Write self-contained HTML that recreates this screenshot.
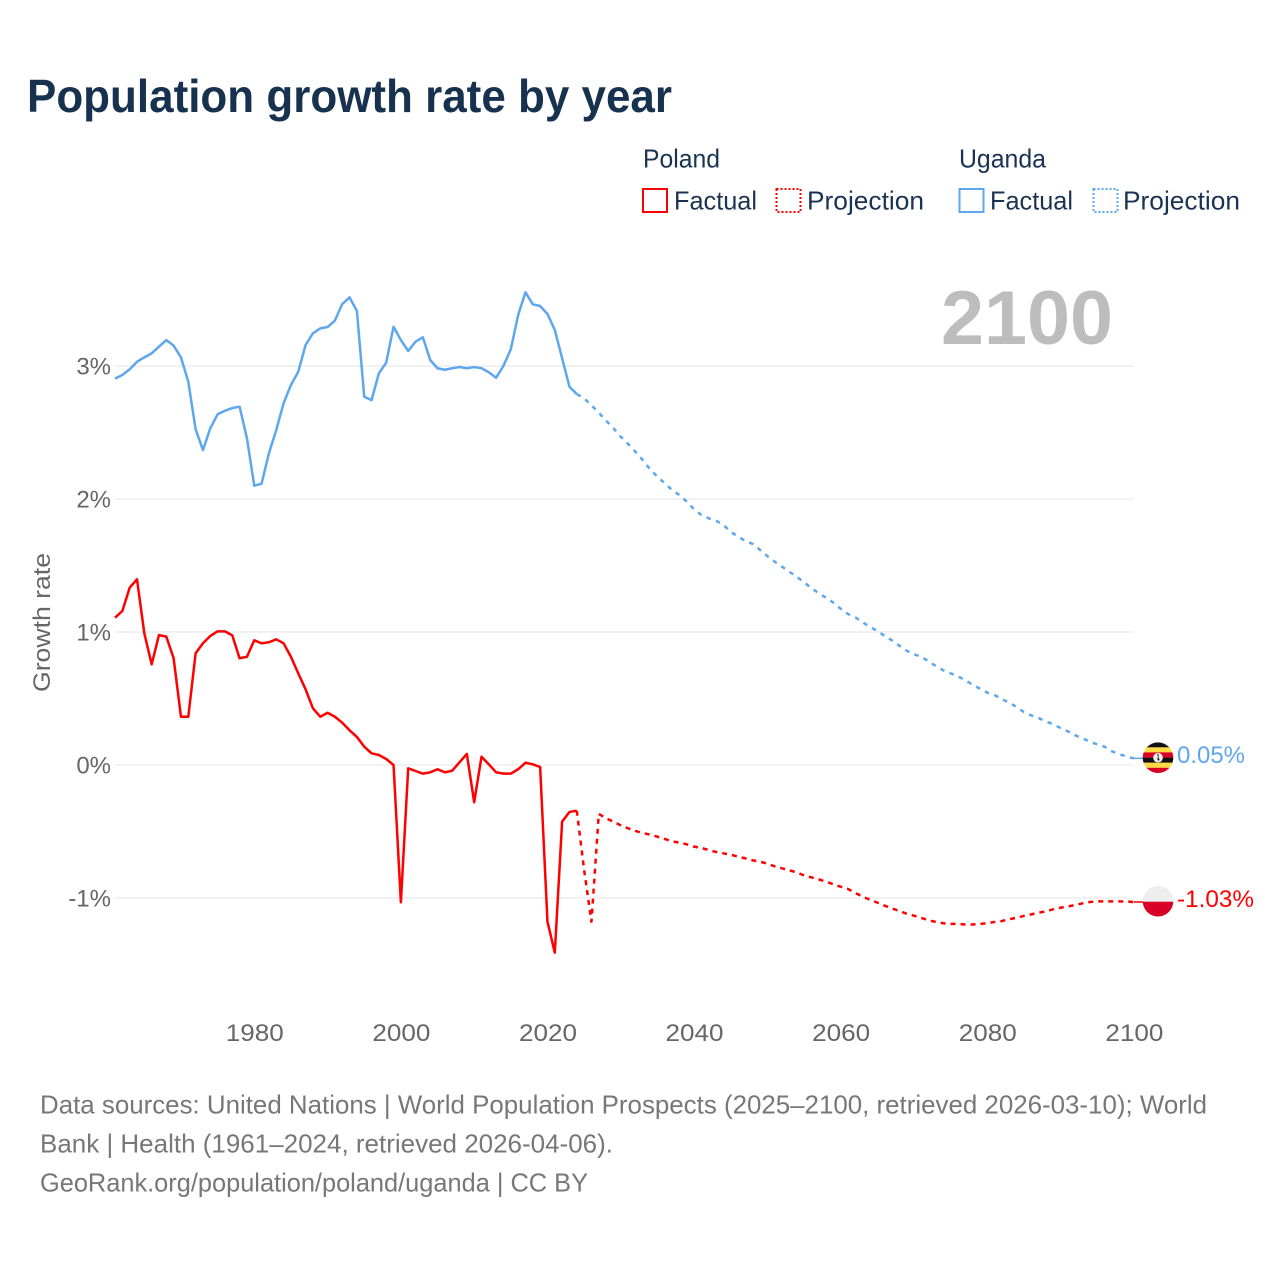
<!DOCTYPE html>
<html lang="en">
<head>
<meta charset="utf-8">
<title>Population growth rate by year</title>
<style>
html,body{margin:0;padding:0;background:#fff;}
svg{display:block;font-family:"Liberation Sans",sans-serif;}
</style>
</head>
<body>
<svg id="chart" width="1280" height="1280" viewBox="0 0 1280 1280" xmlns="http://www.w3.org/2000/svg">
  <rect width="1280" height="1280" fill="#fff"/>
  <text x="27" y="112" font-size="46" font-weight="700" fill="#17324f" textLength="645" lengthAdjust="spacingAndGlyphs">Population growth rate by year</text>

  <g font-size="26" fill="#1b3352">
    <text x="643" y="167.5" textLength="77" lengthAdjust="spacingAndGlyphs">Poland</text>
    <text x="959" y="167.5" textLength="87" lengthAdjust="spacingAndGlyphs">Uganda</text>
    <rect x="643" y="189" width="24" height="23" fill="none" stroke="#ff0000" stroke-width="2"/>
    <text x="674" y="209.5" textLength="83" lengthAdjust="spacingAndGlyphs">Factual</text>
    <rect x="776.5" y="189" width="24" height="23" fill="none" stroke="#ff0000" stroke-width="2" stroke-dasharray="2 2"/>
    <text x="807" y="209.5" textLength="117" lengthAdjust="spacingAndGlyphs">Projection</text>
    <rect x="959.5" y="189" width="24" height="23" fill="none" stroke="#5ea7ee" stroke-width="2"/>
    <text x="990" y="209.5" textLength="83" lengthAdjust="spacingAndGlyphs">Factual</text>
    <rect x="1093.5" y="189" width="24" height="23" fill="none" stroke="#5ea7ee" stroke-width="2" stroke-dasharray="2 2"/>
    <text x="1123" y="209.5" textLength="117" lengthAdjust="spacingAndGlyphs">Projection</text>
  </g>

  <text x="941" y="344" font-size="76" font-weight="700" fill="#bdbdbd" textLength="172" lengthAdjust="spacingAndGlyphs">2100</text>

  <g id="grid"></g>
  <g id="yticks" font-size="24" fill="#666" text-anchor="end"></g>
  <g id="xticks" font-size="24" fill="#666" text-anchor="middle"></g>
  <text transform="translate(50,622.5) rotate(-90)" font-size="24" fill="#666" text-anchor="middle" textLength="139" lengthAdjust="spacingAndGlyphs">Growth rate</text>
  <g id="series" fill="none" stroke-width="2.5" stroke-linejoin="round"></g>

  <g>
    <clipPath id="ug-clip"><circle cx="1158" cy="757.7" r="15.3"/></clipPath>
    <g clip-path="url(#ug-clip)">
      <rect x="1142" y="742" width="32" height="5.5" fill="#111"/>
      <rect x="1142" y="747.3" width="32" height="5.2" fill="#ffda44"/>
      <rect x="1142" y="752.4" width="32" height="5.3" fill="#d80027"/>
      <rect x="1142" y="757.6" width="32" height="5.2" fill="#111"/>
      <rect x="1142" y="762.7" width="32" height="5.2" fill="#ffda44"/>
      <rect x="1142" y="767.8" width="32" height="5.5" fill="#d80027"/>
    </g>
    <circle cx="1158" cy="757.7" r="4.8" fill="#eee"/>
    <path d="M1157 753.8l1.4 .2 .2 3.6 1.2 2.8-1.2-.8-.2 2-1-2.2 .6-2.6z" fill="#111"/>
  </g>
  <text x="1177" y="763" font-size="24" fill="#5ea7ee" textLength="68" lengthAdjust="spacingAndGlyphs">0.05%</text>

  <g>
    <clipPath id="pl-clip"><circle cx="1158" cy="901.2" r="15.3"/></clipPath>
    <g clip-path="url(#pl-clip)">
      <rect x="1142" y="885" width="32" height="16.7" fill="#eeeeee"/>
      <rect x="1142" y="901.7" width="32" height="16" fill="#d80027"/>
    </g>
  </g>
  <text x="1177" y="907" font-size="24" fill="#ff0000" textLength="77" lengthAdjust="spacingAndGlyphs">-1.03%</text>

  <g font-size="26" fill="#777">
    <text x="40" y="1113.5" textLength="1167" lengthAdjust="spacingAndGlyphs">Data sources: United Nations | World Population Prospects (2025–2100, retrieved 2026-03-10); World</text>
    <text x="40" y="1152.5" textLength="573" lengthAdjust="spacingAndGlyphs">Bank | Health (1961–2024, retrieved 2026-04-06).</text>
    <text x="40" y="1191.5" textLength="548" lengthAdjust="spacingAndGlyphs">GeoRank.org/population/poland/uganda | CC BY</text>
  </g>
</svg>

<script>
const xTickYears = [1980, 2000, 2020, 2040, 2060, 2080, 2100];
const yTickValues = [3, 2, 1, 0, -1];
const yTickLabels = ['3%', '2%', '1%', '0%', '-1%'];
const factualStartYear = 1961;
const projectionStartYear = 2024;

const polandFactual = [1.108,1.158,1.333,1.396,0.990,0.757,0.977,0.965,0.802,0.363,0.363,0.840,0.915,0.970,1.005,1.005,0.975,0.802,0.814,0.938,0.915,0.923,0.945,0.915,0.814,0.689,0.569,0.426,0.363,0.393,0.363,0.318,0.261,0.211,0.138,0.088,0.075,0.045,0,-1.032,-0.025,-0.045,-0.065,-0.055,-0.032,-0.055,-0.043,0.020,0.083,-0.280,0.062,0.005,-0.055,-0.065,-0.065,-0.032,0.017,0.005,-0.015,-1.178,-1.411,-0.426,-0.353,-0.344];
const polandProjection = [-0.344,-0.789,-1.178,-0.368,-0.401,-0.426,-0.454,-0.476,-0.496,-0.511,-0.524,-0.539,-0.556,-0.574,-0.584,-0.596,-0.614,-0.624,-0.639,-0.654,-0.664,-0.674,-0.689,-0.702,-0.717,-0.727,-0.742,-0.762,-0.777,-0.792,-0.807,-0.830,-0.845,-0.860,-0.877,-0.897,-0.915,-0.932,-0.962,-0.990,-1.013,-1.035,-1.058,-1.078,-1.098,-1.118,-1.133,-1.150,-1.168,-1.180,-1.190,-1.195,-1.195,-1.199,-1.199,-1.195,-1.190,-1.180,-1.173,-1.160,-1.148,-1.135,-1.123,-1.110,-1.100,-1.085,-1.073,-1.063,-1.053,-1.040,-1.030,-1.025,-1.025,-1.025,-1.025,-1.027,-1.030];
const ugandaFactual = [2.905,2.932,2.975,3.032,3.065,3.095,3.145,3.195,3.153,3.065,2.882,2.524,2.368,2.532,2.637,2.664,2.684,2.694,2.456,2.100,2.115,2.344,2.519,2.720,2.857,2.957,3.158,3.246,3.283,3.293,3.341,3.466,3.516,3.414,2.769,2.744,2.945,3.025,3.295,3.195,3.113,3.183,3.216,3.045,2.983,2.972,2.983,2.992,2.983,2.992,2.983,2.953,2.912,3.002,3.126,3.383,3.554,3.464,3.451,3.391,3.271,3.058,2.844,2.789];
const ugandaProjection = [2.789,2.757,2.705,2.649,2.589,2.532,2.468,2.414,2.356,2.293,2.223,2.168,2.118,2.068,2.030,1.980,1.923,1.880,1.855,1.837,1.805,1.754,1.717,1.684,1.662,1.617,1.571,1.529,1.491,1.453,1.416,1.373,1.331,1.291,1.258,1.221,1.175,1.135,1.110,1.073,1.038,1.008,0.970,0.937,0.897,0.860,0.832,0.815,0.779,0.744,0.712,0.689,0.667,0.637,0.604,0.574,0.544,0.526,0.494,0.469,0.436,0.398,0.373,0.353,0.328,0.306,0.278,0.253,0.223,0.201,0.175,0.155,0.138,0.103,0.083,0.063,0.05];

const SVG_NS = 'http://www.w3.org/2000/svg';
function xScale(year) { return 115 + (year - 1961) * 7.33; }
function yScale(value) { return 765 - value * 133; }

function linePath(values, startYear) {
  return values.map(function (v, i) {
    return (i ? 'L' : 'M') + xScale(startYear + i).toFixed(2) + ' ' + yScale(v).toFixed(2);
  }).join('');
}

const gridGroup = document.getElementById('grid');
const yTickGroup = document.getElementById('yticks');
yTickValues.forEach(function (v, i) {
  const line = document.createElementNS(SVG_NS, 'line');
  
  
  line.setAttribute('x1', xScale(1961));
  line.setAttribute('x2', xScale(2100));
  line.setAttribute('y1', yScale(v));
  line.setAttribute('y2', yScale(v));
  line.setAttribute('stroke', '#eeeeee');
  line.setAttribute('stroke-width', '1.5');
  gridGroup.appendChild(line);

  const label = document.createElementNS(SVG_NS, 'text');
  
  
  label.setAttribute('x', 111);
  label.setAttribute('y', yScale(v) + 8.5);
  label.textContent = yTickLabels[i];
  yTickGroup.appendChild(label);
});

const xTickGroup = document.getElementById('xticks');
xTickYears.forEach(function (year) {
  const label = document.createElementNS(SVG_NS, 'text');
  
  
  label.setAttribute('x', xScale(year) + 0.5);
  label.setAttribute('y', 1041);
  label.setAttribute('textLength', '58');
  label.setAttribute('lengthAdjust', 'spacingAndGlyphs');
  label.textContent = String(year);
  xTickGroup.appendChild(label);
});

const seriesGroup = document.getElementById('series');
function addLine(name, values, startYear, color, dash) {
  const path = document.createElementNS(SVG_NS, 'path');
  
  
  path.setAttribute('d', linePath(values, startYear));
  path.setAttribute('stroke', color);
  if (dash) path.setAttribute('stroke-dasharray', dash);
  seriesGroup.appendChild(path);
}
function addConnector(name, values, color) {
  const lastValue = values[values.length - 1];
  const connector = document.createElementNS(SVG_NS, 'line');
  
  
  connector.setAttribute('x1', xScale(2100));
  connector.setAttribute('x2', xScale(2100) + 10);
  connector.setAttribute('y1', yScale(lastValue));
  connector.setAttribute('y2', yScale(lastValue));
  connector.setAttribute('stroke', color);
  connector.setAttribute('stroke-width', '1.5');
  seriesGroup.appendChild(connector);
}
addLine('uganda-projection-line', ugandaProjection, projectionStartYear, '#5ea7ee', '4.5 5.5');
addLine('poland-projection-line', polandProjection, projectionStartYear, '#ff0000', '5 5');
addLine('uganda-factual-line', ugandaFactual, factualStartYear, '#5ea7ee', '');
addLine('poland-factual-line', polandFactual, factualStartYear, '#ff0000', '');
addConnector('uganda-flag-connector', ugandaProjection, '#5ea7ee');
addConnector('poland-flag-connector', polandProjection, '#ff0000');
</script>
</body>
</html>
